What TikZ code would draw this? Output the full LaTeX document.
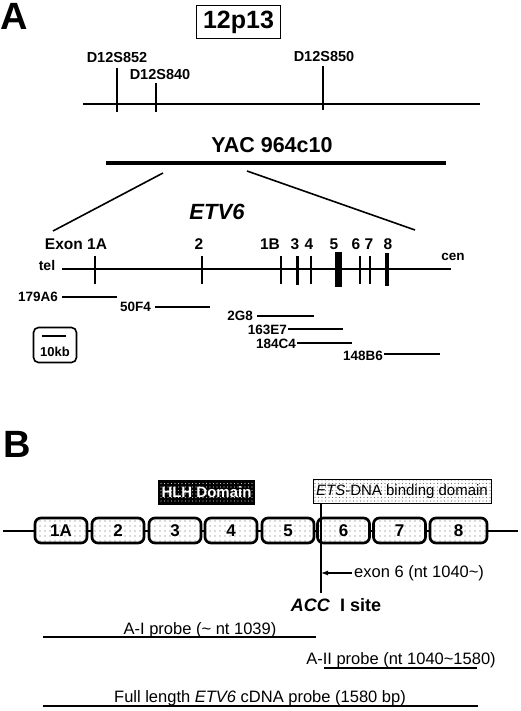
\documentclass[tikz,border=0pt]{standalone}
\usepackage{fontspec}
\setmainfont{Liberation Sans}
\usetikzlibrary{patterns.meta,arrows.meta}

\begin{document}
\begin{tikzpicture}[
    x=1pt, y=-1pt,
    panel/.style={font=\fontsize{38}{40}\selectfont\bfseries, inner sep=0pt},
    marker/.style={font=\fontsize{14.5}{16}\selectfont\bfseries, inner sep=0pt},
    clone/.style={font=\fontsize{13.5}{15}\selectfont\bfseries, inner sep=0pt},
    exonlbl/.style={font=\fontsize{15.5}{17}\selectfont\bfseries, inner sep=0pt},
    tick/.style={line width=1.3pt},
    cloneline/.style={line width=2.2pt},
    exonbox/.style={rectangle, draw, line width=2.7pt, rounded corners=6pt, minimum width=52pt, minimum height=25pt, inner sep=0pt, font=\fontsize{17}{19}\selectfont\bfseries, preaction={fill=white}, pattern={Dots[distance=5pt, radius=0.7pt]}, pattern color=black!60},
    probe/.style={font=\fontsize{16.5}{18}\selectfont, inner sep=0pt, anchor=base},
    probeline/.style={line width=2.2pt}
]
\useasboundingbox (0,0) rectangle (520,711);

% Panel A: chromosome band
\node[panel] (pA) at (14,16) {A};
\node[rectangle, draw, line width=1.3pt, minimum width=84pt, minimum height=33pt, font=\fontsize{25}{27}\selectfont\bfseries] (band) at (238.5,22) {12p13};

\coordinate (chrL) at (83,104);
\coordinate (chrR) at (480,104);
\draw[line width=2.6pt] (chrL) -- (chrR);

% Markers
\node[marker] (m852) at (117,58) {D12S852};
\node[marker] (m840) at (160,75) {D12S840};
\node[marker] (m850) at (324,57) {D12S850};
\draw[tick] (117,68) -- (117,112);
\draw[tick] (156,83) -- (156,112);
\draw[tick] (323,66) -- (323,110);

% YAC
\node[font=\fontsize{21.5}{24}\selectfont\bfseries, inner sep=0pt] (yac) at (272,145) {YAC 964c10};
\coordinate (yacL) at (106,163);
\coordinate (yacR) at (446,163);
\draw[line width=4.5pt] (yacL) -- (yacR);

\coordinate (zoomLa) at (163,173);
\coordinate (zoomLb) at (53,231);
\coordinate (zoomRa) at (247,171);
\coordinate (zoomRb) at (415,230);
\draw[line width=1.6pt] (zoomLa) -- (zoomLb);
\draw[line width=1.6pt] (zoomRa) -- (zoomRb);

% ETV6 locus
\node[font=\fontsize{22}{24}\selectfont\bfseries\itshape, inner sep=0pt] (etv) at (217,212) {ETV6};

\coordinate (geneL) at (62,269);
\coordinate (geneR) at (451,269);
\draw[line width=2.2pt] (geneL) -- (geneR);
\node[font=\fontsize{14}{16}\selectfont\bfseries, inner sep=0pt] (tel) at (47,265) {tel};
\node[font=\fontsize{13.5}{16}\selectfont\bfseries, inner sep=0pt] (cen) at (453,257) {cen};

\node[exonlbl] (e1A) at (76,244) {Exon 1A};
\node[exonlbl] (e2) at (199,244) {2};
\node[exonlbl] (e1B) at (270,244) {1B};
\node[exonlbl] (e3) at (295,244) {3};
\node[exonlbl] (e4) at (309,244) {4};
\node[exonlbl] (e5) at (334,244) {5};
\node[exonlbl] (e6) at (356,244) {6};
\node[exonlbl] (e7) at (369,244) {7};
\node[exonlbl] (e8) at (388,244) {8};

\foreach \xx in {95,202,281,311,360,370}
    \draw[tick] (\xx,256) -- (\xx,284);
\draw[line width=3pt] (297,256) -- (297,285);
\draw[line width=7pt] (338,252) -- (338,287);
\draw[line width=4pt] (387,253) -- (387,286);

% Clones
\node[clone, anchor=east] (c179) at (58,297) {179A6};
\draw[cloneline] (62,297) -- (117,297);
\node[clone, anchor=east] (c50) at (151,307) {50F4};
\draw[cloneline] (155,307) -- (210,307);
\node[clone, anchor=east] (c2G8) at (253,316) {2G8};
\draw[cloneline] (257,316) -- (314,316);
\node[clone, anchor=east] (c163) at (287,330) {163E7};
\draw[cloneline] (288,329) -- (343,329);
\node[clone, anchor=east] (c184) at (296,344) {184C4};
\draw[cloneline] (297,343) -- (352,343);
\node[clone, anchor=east] (c148) at (383,356) {148B6};
\draw[cloneline] (384,354) -- (440,354);

% Scale
\node[rectangle, draw, line width=1.6pt, rounded corners=5pt, minimum width=43pt, minimum height=35pt] (scale) at (55,345) {};
\draw[line width=2pt] (42,336) -- (66,336);
\node[font=\fontsize{13}{15}\selectfont\bfseries, inner sep=0pt] (kb) at (55,352) {10kb};

% Panel B: protein domains
\node[panel] (pB) at (17,444.5) {B};

\node[rectangle, draw, line width=0.8pt, minimum width=96pt, minimum height=24pt, inner sep=0pt, preaction={fill=black}, pattern={Dots[distance=3.5pt, radius=0.7pt]}, pattern color=white!75!black, text=white, font=\fontsize{15}{17}\selectfont\bfseries] (hlh) at (206.5,492.5) {HLH Domain};
\node[rectangle, draw, line width=0.8pt, minimum width=178pt, minimum height=24pt, inner sep=0pt, preaction={fill=white}, pattern={Dots[distance=3.5pt, radius=0.6pt]}, pattern color=black!55, font=\fontsize{15}{17}\selectfont] (ets) at (402,491.5) {\textit{ETS}-DNA binding domain};

\coordinate (bbL) at (3,530.5);
\coordinate (bbR) at (518,530.5);
\draw[line width=2pt] (bbL) -- (bbR);

\node[exonbox] (x1A) at (61,530.5) {1A};
\node[exonbox] (x2) at (118,530.5) {2};
\node[exonbox] (x3) at (175,530.5) {3};
\node[exonbox] (x4) at (231,530.5) {4};
\node[exonbox] (x5) at (288,530.5) {5};
\node[exonbox] (x6) at (343.5,530.5) {6};
\node[exonbox] (x7) at (399.5,530.5) {7};
\node[exonbox, minimum width=57pt] (x8) at (458.5,530.5) {8};

% ACC I site
\coordinate (accT) at (321,504);
\coordinate (accM) at (321,573);
\coordinate (accB) at (321,593);
\draw[line width=1.2pt] (accT) -- (accB);
\node[font=\fontsize{16.5}{18}\selectfont, inner sep=0pt, anchor=west] (x6lbl) at (354,573) {exon 6 (nt 1040\textasciitilde)};
\draw[line width=1.2pt, -{Latex[length=7pt, width=5pt]}] ([xshift=-2pt]x6lbl.west) -- (accM);
\node[font=\fontsize{18}{20}\selectfont\bfseries, inner sep=0pt] (acc) at (336,605) {\textit{ACC}\ \ I site};

% Probes
\node[probe] (pAI) at (200,634) {A-I probe (\textasciitilde{} nt 1039)};
\draw[probeline] (43,637) -- (316,637);
\node[probe] (pAII) at (401,664) {A-II probe (nt 1040\textasciitilde1580)};
\draw[probeline] (324,668) -- (477,668);
\node[probe] (pFull) at (260,702) {Full length \textit{ETV6} cDNA probe (1580 bp)};
\draw[probeline] (43,706) -- (478,706);

\end{tikzpicture}
\end{document}
